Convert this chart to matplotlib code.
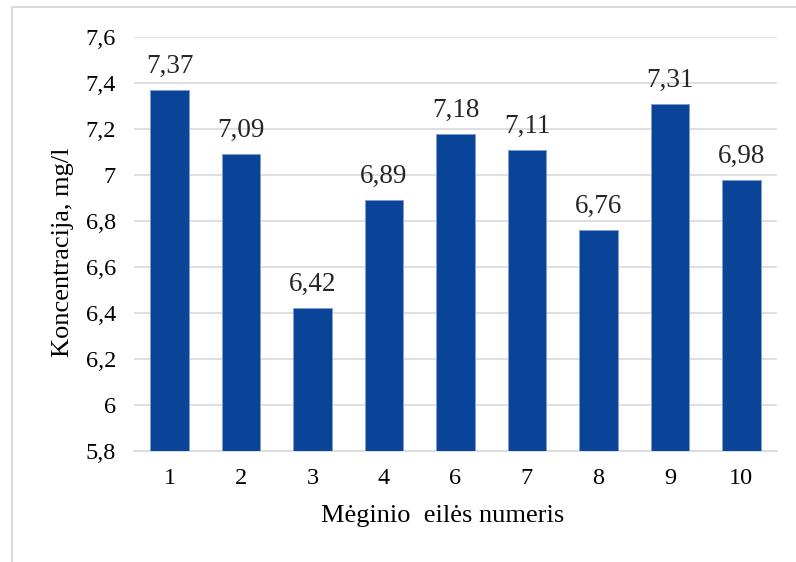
import matplotlib
matplotlib.use("Agg")
import matplotlib.pyplot as plt
from matplotlib.patches import Rectangle

categories = ["1", "2", "3", "4", "6", "7", "8", "9", "10"]
values = [7.37, 7.09, 6.42, 6.89, 7.18, 7.11, 6.76, 7.31, 6.98]
y_ticks = [5.8, 6.0, 6.2, 6.4, 6.6, 6.8, 7.0, 7.2, 7.4, 7.6]

plt.rcParams["font.family"] = ["Liberation Serif", "DejaVu Serif"]

W, H = 796, 562
fig = plt.figure(figsize=(W / 100, H / 100), dpi=100)
ax = fig.add_axes([134 / W, 1 - 451 / H, (777 - 134) / W, (451 - 37) / H])

bar_color = "#0A4499"
x = range(len(categories))
bars = ax.bar(x, [v - 5.8 for v in values], bottom=5.8, width=0.54,
              color=bar_color, edgecolor="#7F9ED2", linewidth=0.7, zorder=3)

for xi, v in zip(x, values):
    ax.annotate(f"{v:.2f}".replace(".", ","), (xi, v), xytext=(0, 8),
                textcoords="offset points", ha="center", va="bottom",
                fontsize=19.5, color="#262626")

ax.set_xlim(-0.5, len(categories) - 0.5)
ax.set_ylim(5.8, 7.6)
ax.set_yticks(y_ticks)
ax.set_yticklabels([f"{t:g}".replace(".", ",") for t in y_ticks])
ax.set_xticks(list(x))
ax.set_xticklabels(categories)

ax.grid(axis="y", color="#D9D9D9", linewidth=1.2, zorder=0)
ax.set_axisbelow(True)
for s in ["top", "right", "left"]:
    ax.spines[s].set_visible(False)
ax.spines["bottom"].set_color("#D9D9D9")
ax.spines["bottom"].set_linewidth(1.2)
ax.tick_params(axis="both", length=0, labelsize=17.5, colors="#000000")
ax.tick_params(axis="y", pad=13)
ax.tick_params(axis="x", pad=12)

ax.set_xlabel("Mėginio  eilės numeris", fontsize=19, labelpad=12)
ax.xaxis.label.set_x(0.48)
ax.set_ylabel("Koncentracija, mg/l", fontsize=19, labelpad=8)
ax.yaxis.label.set_y(0.48)

fig.patches.append(Rectangle((12 / W, -0.1), 1.2, 1 - 7 / H + 0.1,
                             transform=fig.transFigure, fill=False,
                             edgecolor="#D9D9D9", linewidth=1.5))

fig.savefig("out.png", dpi=100)
